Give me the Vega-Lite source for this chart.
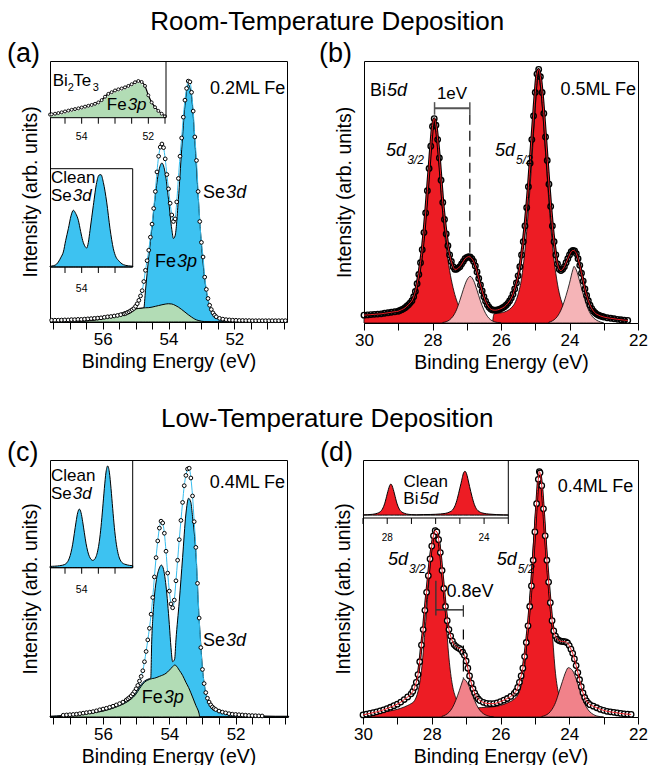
{
"$schema": "https://vega.github.io/schema/vega-lite/v6.json",
"background": "white",
"padding": {"left": 6, "top": 8, "right": 2, "bottom": 2},
"config": {
  "font": "Liberation Sans",
  "view": {"stroke": "black", "strokeWidth": 1},
  "axis": {"grid": false, "labelColor": "black", "titleColor": "black", "tickColor": "black", "domainColor": "black", "titleFontWeight": "normal", "labelFontWeight": "normal"},
  "title": {"fontWeight": "normal", "color": "black"},
  "text": {"color": "black"},
  "point": {"opacity": 1},
  "area": {"opacity": 1}
},
"datasets": {
  "a_pts": [{"e":57.55,"d":0.7},{"e":57.45,"d":0.7},{"e":57.35,"d":0.7},{"e":57.25,"d":0.75},{"e":57.15,"d":0.8},{"e":57.05,"d":0.8},{"e":56.95,"d":0.9},{"e":56.85,"d":0.9},{"e":56.75,"d":1.0},{"e":56.65,"d":1.0},{"e":56.55,"d":1.1},{"e":56.45,"d":1.2},{"e":56.35,"d":1.3},{"e":56.25,"d":1.4},{"e":56.15,"d":1.5},{"e":56.05,"d":1.6},{"e":55.95,"d":1.8},{"e":55.85,"d":2.0},{"e":55.75,"d":2.1},{"e":55.65,"d":2.3},{"e":55.55,"d":2.5},{"e":55.45,"d":2.8},{"e":55.35,"d":3.1},{"e":55.3,"d":3.3},{"e":55.25,"d":3.6},{"e":55.2,"d":3.9},{"e":55.15,"d":4.3},{"e":55.1,"d":4.7},{"e":55.05,"d":5.2},{"e":55.0,"d":6.0},{"e":54.95,"d":7.0},{"e":54.9,"d":8.3},{"e":54.85,"d":10.0},{"e":54.8,"d":12.0},{"e":54.75,"d":15.5},{"e":54.7,"d":19.8},{"e":54.65,"d":23.5},{"e":54.6,"d":27.5},{"e":54.55,"d":32.5},{"e":54.5,"d":37.5},{"e":54.45,"d":43.5},{"e":54.4,"d":50.0},{"e":54.35,"d":57.5},{"e":54.3,"d":63.5},{"e":54.25,"d":67.0},{"e":54.2,"d":68.2},{"e":54.15,"d":66.8},{"e":54.1,"d":62.5},{"e":54.05,"d":56.5},{"e":54.0,"d":51.0},{"e":53.95,"d":45.5},{"e":53.9,"d":41.0},{"e":53.85,"d":38.5},{"e":53.8,"d":39.5},{"e":53.75,"d":46.0},{"e":53.7,"d":55.0},{"e":53.65,"d":63.5},{"e":53.6,"d":70.5},{"e":53.55,"d":78.5},{"e":53.5,"d":85.0},{"e":53.45,"d":89.5},{"e":53.4,"d":92.3},{"e":53.35,"d":92.0},{"e":53.3,"d":88.0},{"e":53.25,"d":80.8},{"e":53.2,"d":70.9},{"e":53.15,"d":61.9},{"e":53.1,"d":50.0},{"e":53.05,"d":38.5},{"e":53.0,"d":30.5},{"e":52.95,"d":24.9},{"e":52.9,"d":17.2},{"e":52.85,"d":12.5},{"e":52.8,"d":9.0},{"e":52.75,"d":6.4},{"e":52.7,"d":4.8},{"e":52.65,"d":3.5},{"e":52.6,"d":2.6},{"e":52.55,"d":2.0},{"e":52.45,"d":1.4},{"e":52.35,"d":1.1},{"e":52.25,"d":0.9},{"e":52.15,"d":0.8},{"e":52.05,"d":0.7},{"e":51.95,"d":0.65},{"e":51.85,"d":0.6},{"e":51.75,"d":0.6},{"e":51.65,"d":0.55},{"e":51.55,"d":0.55},{"e":51.45,"d":0.5},{"e":51.35,"d":0.5},{"e":51.25,"d":0.5},{"e":51.15,"d":0.5},{"e":51.05,"d":0.5},{"e":50.95,"d":0.5},{"e":50.85,"d":0.5},{"e":50.75,"d":0.5},{"e":50.65,"d":0.5},{"e":50.55,"d":0.5},{"e":50.45,"d":0.5}],
  "a_comp": [{"e":57.6,"s":0.1,"fe":0},{"e":57.4,"s":0.1,"fe":0.05},{"e":57.2,"s":0.15,"fe":0.1},{"e":57.0,"s":0.2,"fe":0.15},{"e":56.8,"s":0.25,"fe":0.2},{"e":56.6,"s":0.35,"fe":0.3},{"e":56.4,"s":0.5,"fe":0.5},{"e":56.2,"s":0.8,"fe":0.8},{"e":56.0,"s":1.2,"fe":1.2},{"e":55.8,"s":1.8,"fe":1.8},{"e":55.6,"s":2.6,"fe":2.6},{"e":55.4,"s":3.5,"fe":3.5},{"e":55.2,"s":4.4,"fe":4.4},{"e":55.0,"s":5.0,"fe":5.0},{"e":54.9,"s":5.2,"fe":5.2},{"e":54.8,"s":5.3,"fe":5.3},{"e":54.75,"s":5.4,"fe":5.4},{"e":54.7,"s":12.0,"fe":5.45},{"e":54.6,"s":25.0,"fe":5.5},{"e":54.5,"s":36.5,"fe":5.7},{"e":54.4,"s":48.5,"fe":6.0},{"e":54.3,"s":57.5,"fe":6.3},{"e":54.2,"s":60.9,"fe":6.6},{"e":54.1,"s":57.0,"fe":6.85},{"e":54.0,"s":47.0,"fe":7.0},{"e":53.9,"s":35.5,"fe":6.9},{"e":53.85,"s":32.0,"fe":6.7},{"e":53.8,"s":33.0,"fe":6.4},{"e":53.7,"s":47.0,"fe":5.7},{"e":53.6,"s":66.0,"fe":4.8},{"e":53.5,"s":83.0,"fe":3.8},{"e":53.4,"s":91.0,"fe":2.8},{"e":53.3,"s":86.5,"fe":1.9},{"e":53.2,"s":69.5,"fe":1.1},{"e":53.1,"s":48.5,"fe":0.6},{"e":53.0,"s":30.0,"fe":0.3},{"e":52.9,"s":16.5,"fe":0.15},{"e":52.8,"s":8.5,"fe":0.1},{"e":52.7,"s":4.3,"fe":0.05},{"e":52.6,"s":2.2,"fe":0},{"e":52.5,"s":1.2,"fe":0},{"e":52.4,"s":0.7,"fe":0},{"e":52.2,"s":0.3,"fe":0},{"e":52.0,"s":0.15,"fe":0},{"e":51.5,"s":0.05,"fe":0},{"e":50.4,"s":0,"fe":0}],
  "a_in1": [{"e":54.95,"d":5.5,"g":2.4},{"e":54.9,"d":6.0,"g":2.8},{"e":54.8,"d":7.0,"g":3.8},{"e":54.7,"d":8.2,"g":5.0},{"e":54.6,"d":9.5,"g":6.3},{"e":54.5,"d":11.0,"g":7.8},{"e":54.4,"d":12.5,"g":9.3},{"e":54.3,"d":14.0,"g":10.8},{"e":54.2,"d":15.2,"g":12.0},{"e":54.1,"d":16.5,"g":13.3},{"e":54.0,"d":18.0,"g":14.8},{"e":53.9,"d":19.5,"g":16.3},{"e":53.8,"d":21.0,"g":17.8},{"e":53.7,"d":22.5,"g":19.3},{"e":53.6,"d":24.5,"g":21.3},{"e":53.5,"d":27.0,"g":23.8},{"e":53.4,"d":31.0,"g":27.5},{"e":53.3,"d":37.0,"g":33.5},{"e":53.2,"d":42.0,"g":38.5},{"e":53.1,"d":45.0,"g":41.5},{"e":53.0,"d":48.0,"g":44.5},{"e":52.9,"d":50.0,"g":46.5},{"e":52.8,"d":51.5,"g":48.0},{"e":52.7,"d":53.5,"g":50.0},{"e":52.6,"d":56.0,"g":52.5},{"e":52.5,"d":59.0,"g":55.5},{"e":52.4,"d":62.5,"g":59.0},{"e":52.3,"d":64.7,"g":61.0},{"e":52.2,"d":63.0,"g":59.0},{"e":52.1,"d":56.0,"g":52.0},{"e":52.0,"d":39.5,"g":36.0},{"e":51.9,"d":27.0,"g":23.5},{"e":51.8,"d":18.5,"g":15.0},{"e":51.7,"d":12.0,"g":8.5},{"e":51.6,"d":7.0,"g":3.5},{"e":51.5,"d":2.5,"g":0.5}],
  "a_in2": [{"e":54.95,"v":0.8},{"e":54.85,"v":1.3},{"e":54.75,"v":3.0},{"e":54.7,"v":5.1},{"e":54.62,"v":10},{"e":54.55,"v":15.3},{"e":54.48,"v":27},{"e":54.4,"v":39},{"e":54.32,"v":52},{"e":54.25,"v":57.7},{"e":54.18,"v":54.5},{"e":54.1,"v":47.5},{"e":54.03,"v":36},{"e":53.97,"v":27},{"e":53.9,"v":21},{"e":53.85,"v":19.3},{"e":53.8,"v":25},{"e":53.75,"v":37.3},{"e":53.65,"v":62.7},{"e":53.55,"v":86},{"e":53.48,"v":93.5},{"e":53.42,"v":93.9},{"e":53.35,"v":86},{"e":53.25,"v":66},{"e":53.15,"v":39},{"e":53.05,"v":18.6},{"e":52.97,"v":10},{"e":52.9,"v":6.8},{"e":52.75,"v":2.4},{"e":52.6,"v":1.2},{"e":52.47,"v":0.8}],
  "b_pts": [{"e":30.0,"d":3.0},{"e":29.9,"d":3.1},{"e":29.8,"d":3.2},{"e":29.7,"d":3.3},{"e":29.6,"d":3.4},{"e":29.5,"d":3.5},{"e":29.4,"d":3.7},{"e":29.3,"d":3.9},{"e":29.2,"d":4.1},{"e":29.1,"d":4.3},{"e":29.0,"d":4.5},{"e":28.95,"d":4.8},{"e":28.9,"d":5.1},{"e":28.85,"d":5.4},{"e":28.8,"d":5.8},{"e":28.75,"d":6.4},{"e":28.7,"d":7.0},{"e":28.65,"d":7.7},{"e":28.6,"d":8.5},{"e":28.55,"d":10.0},{"e":28.5,"d":12.0},{"e":28.45,"d":15.0},{"e":28.4,"d":18.5},{"e":28.35,"d":23.0},{"e":28.3,"d":28.0},{"e":28.25,"d":34.5},{"e":28.2,"d":42.0},{"e":28.15,"d":50.5},{"e":28.1,"d":59.0},{"e":28.05,"d":67.5},{"e":28.0,"d":75.0},{"e":27.95,"d":78.0},{"e":27.9,"d":75.5},{"e":27.85,"d":70.0},{"e":27.8,"d":63.0},{"e":27.75,"d":54.5},{"e":27.7,"d":46.0},{"e":27.65,"d":39.5},{"e":27.6,"d":34.0},{"e":27.55,"d":29.5},{"e":27.5,"d":26.0},{"e":27.45,"d":23.5},{"e":27.4,"d":21.5},{"e":27.35,"d":20.5},{"e":27.3,"d":20.5},{"e":27.25,"d":21.0},{"e":27.2,"d":21.5},{"e":27.15,"d":22.5},{"e":27.1,"d":23.5},{"e":27.05,"d":24.5},{"e":27.0,"d":25.0},{"e":26.95,"d":25.3},{"e":26.9,"d":25.2},{"e":26.85,"d":24.5},{"e":26.8,"d":23.5},{"e":26.75,"d":21.8},{"e":26.7,"d":19.5},{"e":26.65,"d":17.0},{"e":26.6,"d":14.5},{"e":26.55,"d":12.2},{"e":26.5,"d":10.0},{"e":26.45,"d":8.3},{"e":26.4,"d":7.0},{"e":26.35,"d":6.0},{"e":26.3,"d":5.3},{"e":26.25,"d":5.0},{"e":26.2,"d":4.9},{"e":26.15,"d":4.9},{"e":26.1,"d":5.0},{"e":26.05,"d":5.2},{"e":26.0,"d":5.5},{"e":25.95,"d":5.8},{"e":25.9,"d":6.2},{"e":25.85,"d":6.8},{"e":25.8,"d":7.5},{"e":25.75,"d":8.4},{"e":25.7,"d":9.5},{"e":25.65,"d":11.0},{"e":25.6,"d":13.0},{"e":25.55,"d":15.3},{"e":25.5,"d":18.0},{"e":25.45,"d":21.5},{"e":25.4,"d":26.0},{"e":25.35,"d":31.0},{"e":25.3,"d":37.0},{"e":25.25,"d":44.0},{"e":25.2,"d":52.0},{"e":25.15,"d":61.0},{"e":25.1,"d":70.0},{"e":25.05,"d":79.0},{"e":25.0,"d":88.0},{"e":24.95,"d":95.0},{"e":24.9,"d":96.8},{"e":24.85,"d":94.0},{"e":24.8,"d":88.0},{"e":24.75,"d":80.0},{"e":24.7,"d":71.0},{"e":24.65,"d":62.0},{"e":24.6,"d":53.0},{"e":24.55,"d":44.5},{"e":24.5,"d":37.0},{"e":24.45,"d":31.0},{"e":24.4,"d":26.0},{"e":24.35,"d":22.5},{"e":24.3,"d":20.5},{"e":24.25,"d":20.0},{"e":24.2,"d":20.5},{"e":24.15,"d":21.5},{"e":24.1,"d":23.0},{"e":24.05,"d":24.5},{"e":24.0,"d":26.0},{"e":23.95,"d":27.2},{"e":23.9,"d":27.7},{"e":23.85,"d":27.5},{"e":23.8,"d":26.5},{"e":23.75,"d":24.5},{"e":23.7,"d":22.0},{"e":23.65,"d":19.0},{"e":23.6,"d":16.0},{"e":23.55,"d":13.0},{"e":23.5,"d":10.5},{"e":23.45,"d":8.5},{"e":23.4,"d":6.8},{"e":23.35,"d":5.5},{"e":23.3,"d":4.5},{"e":23.25,"d":3.8},{"e":23.2,"d":3.3},{"e":23.15,"d":3.0},{"e":23.1,"d":2.7},{"e":23.05,"d":2.5},{"e":23.0,"d":2.3},{"e":22.9,"d":2.0},{"e":22.8,"d":1.8},{"e":22.7,"d":1.6},{"e":22.6,"d":1.4},{"e":22.5,"d":1.25},{"e":22.4,"d":1.1},{"e":22.3,"d":1.0}],
  "b_comp": [
    {"c":"R1","e":30.0,"v":2.2},{"c":"R1","e":29.6,"v":2.6},{"c":"R1","e":29.2,"v":3.2},{"c":"R1","e":29.0,"v":3.7},{"c":"R1","e":28.8,"v":4.8},{"c":"R1","e":28.7,"v":6.0},{"c":"R1","e":28.6,"v":7.8},{"c":"R1","e":28.5,"v":11},{"c":"R1","e":28.4,"v":17},{"c":"R1","e":28.3,"v":26},{"c":"R1","e":28.2,"v":40},{"c":"R1","e":28.1,"v":57},{"c":"R1","e":28.0,"v":74},{"c":"R1","e":27.96,"v":78},{"c":"R1","e":27.9,"v":74},{"c":"R1","e":27.8,"v":60},{"c":"R1","e":27.7,"v":42},{"c":"R1","e":27.6,"v":29},{"c":"R1","e":27.5,"v":20},{"c":"R1","e":27.4,"v":13.5},{"c":"R1","e":27.3,"v":8.8},{"c":"R1","e":27.2,"v":5.5},{"c":"R1","e":27.1,"v":3.3},{"c":"R1","e":27.0,"v":1.8},{"c":"R1","e":26.9,"v":0.9},{"c":"R1","e":26.8,"v":0.4},{"c":"R1","e":26.6,"v":0.1},{"c":"R1","e":26.4,"v":0},
    {"c":"P1","e":27.7,"v":0.2},{"c":"P1","e":27.6,"v":0.5},{"c":"P1","e":27.5,"v":1.2},{"c":"P1","e":27.4,"v":2.6},{"c":"P1","e":27.3,"v":5},{"c":"P1","e":27.2,"v":8.7},{"c":"P1","e":27.1,"v":12.8},{"c":"P1","e":27.0,"v":16.3},{"c":"P1","e":26.9,"v":17.8},{"c":"P1","e":26.8,"v":16.2},{"c":"P1","e":26.7,"v":12.5},{"c":"P1","e":26.6,"v":8.4},{"c":"P1","e":26.5,"v":5},{"c":"P1","e":26.4,"v":2.6},{"c":"P1","e":26.3,"v":1.2},{"c":"P1","e":26.2,"v":0.5},{"c":"P1","e":26.1,"v":0.2},{"c":"P1","e":26.0,"v":0},
    {"c":"R2","e":26.25,"v":0},{"c":"R2","e":26.2,"v":3.5},{"c":"R2","e":26.0,"v":3.9},{"c":"R2","e":25.8,"v":4.8},{"c":"R2","e":25.7,"v":5.8},{"c":"R2","e":25.6,"v":7.5},{"c":"R2","e":25.5,"v":11},{"c":"R2","e":25.4,"v":17},{"c":"R2","e":25.3,"v":28},{"c":"R2","e":25.2,"v":43},{"c":"R2","e":25.1,"v":62},{"c":"R2","e":25.0,"v":82},{"c":"R2","e":24.92,"v":94.2},{"c":"R2","e":24.9,"v":93.8},{"c":"R2","e":24.8,"v":84},{"c":"R2","e":24.7,"v":65},{"c":"R2","e":24.6,"v":46},{"c":"R2","e":24.5,"v":30},{"c":"R2","e":24.4,"v":19},{"c":"R2","e":24.3,"v":11.5},{"c":"R2","e":24.2,"v":7},{"c":"R2","e":24.1,"v":4.2},{"c":"R2","e":24.0,"v":2.6},{"c":"R2","e":23.9,"v":1.6},{"c":"R2","e":23.8,"v":1.0},{"c":"R2","e":23.6,"v":0.4},{"c":"R2","e":23.4,"v":0.1},{"c":"R2","e":23.2,"v":0},
    {"c":"P2","e":24.6,"v":0.3},{"c":"P2","e":24.5,"v":0.8},{"c":"P2","e":24.4,"v":1.8},{"c":"P2","e":24.3,"v":3.6},{"c":"P2","e":24.2,"v":6.5},{"c":"P2","e":24.1,"v":10.5},{"c":"P2","e":24.0,"v":15.2},{"c":"P2","e":23.9,"v":20.5},{"c":"P2","e":23.87,"v":21.6},{"c":"P2","e":23.8,"v":20.2},{"c":"P2","e":23.7,"v":15.8},{"c":"P2","e":23.6,"v":11},{"c":"P2","e":23.5,"v":6.8},{"c":"P2","e":23.4,"v":3.8},{"c":"P2","e":23.3,"v":2},{"c":"P2","e":23.2,"v":1},{"c":"P2","e":23.1,"v":0.4},{"c":"P2","e":23.0,"v":0}],
  "c_pts": [{"e":57.2,"d":0.7},{"e":57.1,"d":0.8},{"e":57.0,"d":0.9},{"e":56.9,"d":1.0},{"e":56.8,"d":1.1},{"e":56.7,"d":1.3},{"e":56.6,"d":1.5},{"e":56.5,"d":1.7},{"e":56.4,"d":1.9},{"e":56.3,"d":2.1},{"e":56.2,"d":2.4},{"e":56.1,"d":2.8},{"e":56.0,"d":3.1},{"e":55.9,"d":3.4},{"e":55.8,"d":3.8},{"e":55.7,"d":4.2},{"e":55.6,"d":4.7},{"e":55.5,"d":5.2},{"e":55.4,"d":5.8},{"e":55.3,"d":6.6},{"e":55.25,"d":7.1},{"e":55.2,"d":7.6},{"e":55.15,"d":8.2},{"e":55.1,"d":9.0},{"e":55.05,"d":9.9},{"e":55.0,"d":11.0},{"e":54.95,"d":12.3},{"e":54.9,"d":14.0},{"e":54.85,"d":15.8},{"e":54.8,"d":18.0},{"e":54.75,"d":21.5},{"e":54.7,"d":25.5},{"e":54.65,"d":30.0},{"e":54.6,"d":34.5},{"e":54.55,"d":40.0},{"e":54.5,"d":46.5},{"e":54.45,"d":54.5},{"e":54.4,"d":62.0},{"e":54.35,"d":68.5},{"e":54.3,"d":73.5},{"e":54.25,"d":76.2},{"e":54.2,"d":75.5},{"e":54.15,"d":71.5},{"e":54.1,"d":64.5},{"e":54.05,"d":56.0},{"e":54.0,"d":49.0},{"e":53.95,"d":44.0},{"e":53.9,"d":42.5},{"e":53.85,"d":45.5},{"e":53.8,"d":53.0},{"e":53.75,"d":61.0},{"e":53.7,"d":69.0},{"e":53.65,"d":76.5},{"e":53.6,"d":83.5},{"e":53.55,"d":90.0},{"e":53.5,"d":94.0},{"e":53.45,"d":96.5},{"e":53.4,"d":96.8},{"e":53.35,"d":93.0},{"e":53.3,"d":86.0},{"e":53.25,"d":76.0},{"e":53.2,"d":66.0},{"e":53.15,"d":52.0},{"e":53.1,"d":38.5},{"e":53.05,"d":27.0},{"e":53.0,"d":18.5},{"e":52.95,"d":13.0},{"e":52.9,"d":9.5},{"e":52.85,"d":7.3},{"e":52.8,"d":5.8},{"e":52.75,"d":4.7},{"e":52.7,"d":3.9},{"e":52.65,"d":3.3},{"e":52.6,"d":2.9},{"e":52.5,"d":2.3},{"e":52.4,"d":1.9},{"e":52.3,"d":1.6},{"e":52.2,"d":1.3},{"e":52.1,"d":1.1},{"e":52.0,"d":1.0},{"e":51.9,"d":0.9},{"e":51.8,"d":0.8},{"e":51.7,"d":0.7},{"e":51.6,"d":0.6},{"e":51.5,"d":0.55},{"e":51.4,"d":0.5},{"e":51.3,"d":0.45},{"e":51.2,"d":0.4}],
  "c_comp": [{"e":57.6,"s":0.3,"fe":0},{"e":57.4,"s":0.45,"fe":0.1},{"e":57.2,"s":0.6,"fe":0.25},{"e":57.0,"s":0.8,"fe":0.4},{"e":56.8,"s":1.1,"fe":0.7},{"e":56.6,"s":1.4,"fe":1.0},{"e":56.4,"s":1.8,"fe":1.4},{"e":56.2,"s":2.3,"fe":1.8},{"e":56.0,"s":2.9,"fe":2.3},{"e":55.8,"s":3.7,"fe":3.0},{"e":55.6,"s":4.6,"fe":3.9},{"e":55.4,"s":5.8,"fe":5.0},{"e":55.2,"s":7.4,"fe":6.5},{"e":55.0,"s":9.9,"fe":9.0},{"e":54.9,"s":11.8,"fe":11.0},{"e":54.8,"s":13.4,"fe":12.8},{"e":54.7,"s":14.4,"fe":14.0},{"e":54.6,"s":14.9,"fe":14.6},{"e":54.56,"s":15.1,"fe":14.8},{"e":54.53,"s":30,"fe":14.9},{"e":54.5,"s":38,"fe":15.0},{"e":54.45,"s":47,"fe":15.1},{"e":54.4,"s":52.5,"fe":15.3},{"e":54.3,"s":58,"fe":15.8},{"e":54.24,"s":59.1,"fe":16.1},{"e":54.2,"s":58.5,"fe":16.3},{"e":54.1,"s":51,"fe":17.0},{"e":54.0,"s":36,"fe":18.2},{"e":53.95,"s":27,"fe":18.9},{"e":53.9,"s":21.5,"fe":19.6},{"e":53.84,"s":22.5,"fe":20.2},{"e":53.8,"s":30,"fe":20.0},{"e":53.7,"s":45,"fe":18.2},{"e":53.6,"s":62,"fe":16.2},{"e":53.5,"s":79,"fe":13.5},{"e":53.42,"s":85.1,"fe":11.5},{"e":53.35,"s":83.5,"fe":9.4},{"e":53.3,"s":78,"fe":7.8},{"e":53.2,"s":64,"fe":4.5},{"e":53.1,"s":38,"fe":1.2},{"e":53.08,"s":34,"fe":0},{"e":53.0,"s":19,"fe":0},{"e":52.9,"s":9.3,"fe":0},{"e":52.8,"s":5.6,"fe":0},{"e":52.7,"s":3.9,"fe":0},{"e":52.6,"s":2.9,"fe":0},{"e":52.5,"s":2.3,"fe":0},{"e":52.4,"s":1.9,"fe":0},{"e":52.3,"s":1.6,"fe":0},{"e":52.2,"s":1.3,"fe":0},{"e":52.0,"s":1.0,"fe":0},{"e":51.8,"s":0.8,"fe":0},{"e":51.5,"s":0.55,"fe":0},{"e":51.2,"s":0.4,"fe":0},{"e":50.8,"s":0.3,"fe":0},{"e":50.4,"s":0.3,"fe":0}],
  "c_in": [{"e":54.95,"v":1.2},{"e":54.92,"v":1.24},{"e":54.87,"v":1.32},{"e":54.82,"v":1.4},{"e":54.77,"v":1.5},{"e":54.72,"v":1.65},{"e":54.67,"v":1.8},{"e":54.62,"v":2.07},{"e":54.57,"v":2.35},{"e":54.52,"v":2.86},{"e":54.47,"v":3.8},{"e":54.42,"v":5.6},{"e":54.37,"v":8.9},{"e":54.32,"v":14.2},{"e":54.27,"v":21.8},{"e":54.22,"v":31.9},{"e":54.17,"v":42.3},{"e":54.12,"v":51},{"e":54.07,"v":54.4},{"e":54.02,"v":51.2},{"e":53.97,"v":42.7},{"e":53.92,"v":32.5},{"e":53.87,"v":22.7},{"e":53.82,"v":15.3},{"e":53.77,"v":10.5},{"e":53.72,"v":7.8},{"e":53.67,"v":6.8},{"e":53.62,"v":7.5},{"e":53.57,"v":10.2},{"e":53.52,"v":15.6},{"e":53.47,"v":24.6},{"e":53.42,"v":38},{"e":53.37,"v":55.3},{"e":53.32,"v":73.6},{"e":53.27,"v":88.8},{"e":53.22,"v":94.5},{"e":53.17,"v":88.7},{"e":53.12,"v":73.5},{"e":53.07,"v":55},{"e":53.02,"v":37.5},{"e":52.97,"v":24},{"e":52.92,"v":14.8},{"e":52.87,"v":9.0},{"e":52.82,"v":5.9},{"e":52.77,"v":4.2},{"e":52.72,"v":3.4},{"e":52.67,"v":2.9},{"e":52.62,"v":2.5},{"e":52.57,"v":2.2},{"e":52.52,"v":2.0},{"e":52.47,"v":1.8}],
  "d_pts": [{"e":30.0,"d":0.8},{"e":29.9,"d":1.1},{"e":29.8,"d":1.4},{"e":29.7,"d":1.7},{"e":29.6,"d":2.0},{"e":29.5,"d":2.4},{"e":29.4,"d":2.8},{"e":29.3,"d":3.3},{"e":29.2,"d":3.8},{"e":29.1,"d":4.4},{"e":29.0,"d":5.0},{"e":28.9,"d":5.8},{"e":28.8,"d":6.8},{"e":28.7,"d":7.8},{"e":28.6,"d":9.0},{"e":28.55,"d":10.0},{"e":28.5,"d":11.5},{"e":28.45,"d":13.5},{"e":28.4,"d":16.5},{"e":28.35,"d":21.5},{"e":28.3,"d":28.0},{"e":28.25,"d":34.0},{"e":28.2,"d":41.5},{"e":28.15,"d":48.5},{"e":28.1,"d":55.0},{"e":28.05,"d":61.5},{"e":28.0,"d":66.5},{"e":27.95,"d":70.5},{"e":27.9,"d":72.5},{"e":27.85,"d":72.0},{"e":27.8,"d":69.0},{"e":27.75,"d":64.0},{"e":27.7,"d":57.0},{"e":27.65,"d":50.0},{"e":27.6,"d":43.0},{"e":27.55,"d":37.5},{"e":27.5,"d":34.0},{"e":27.45,"d":31.5},{"e":27.4,"d":29.5},{"e":27.35,"d":28.2},{"e":27.3,"d":27.5},{"e":27.25,"d":27.0},{"e":27.2,"d":26.7},{"e":27.15,"d":26.2},{"e":27.1,"d":25.2},{"e":27.05,"d":24.0},{"e":27.0,"d":21.8},{"e":26.95,"d":19.0},{"e":26.9,"d":16.0},{"e":26.85,"d":13.2},{"e":26.8,"d":11.0},{"e":26.75,"d":9.3},{"e":26.7,"d":8.0},{"e":26.65,"d":7.0},{"e":26.6,"d":6.4},{"e":26.5,"d":5.7},{"e":26.4,"d":5.3},{"e":26.3,"d":5.2},{"e":26.2,"d":5.2},{"e":26.1,"d":5.5},{"e":26.0,"d":6.0},{"e":25.9,"d":6.6},{"e":25.8,"d":7.2},{"e":25.7,"d":8.0},{"e":25.6,"d":9.2},{"e":25.55,"d":10.0},{"e":25.5,"d":11.5},{"e":25.45,"d":13.5},{"e":25.4,"d":16.0},{"e":25.35,"d":19.0},{"e":25.3,"d":23.5},{"e":25.25,"d":29.0},{"e":25.2,"d":35.5},{"e":25.15,"d":43.0},{"e":25.1,"d":51.0},{"e":25.05,"d":61.0},{"e":25.0,"d":72.0},{"e":24.95,"d":83.0},{"e":24.9,"d":92.5},{"e":24.87,"d":95.5},{"e":24.85,"d":95.0},{"e":24.8,"d":90.0},{"e":24.75,"d":81.0},{"e":24.7,"d":70.5},{"e":24.65,"d":61.0},{"e":24.6,"d":52.5},{"e":24.55,"d":44.5},{"e":24.5,"d":37.5},{"e":24.45,"d":33.5},{"e":24.4,"d":31.5},{"e":24.35,"d":30.3},{"e":24.3,"d":29.8},{"e":24.25,"d":29.5},{"e":24.2,"d":29.4},{"e":24.15,"d":29.3},{"e":24.1,"d":29.2},{"e":24.05,"d":28.8},{"e":24.0,"d":27.8},{"e":23.95,"d":26.4},{"e":23.9,"d":24.8},{"e":23.85,"d":22.6},{"e":23.8,"d":20.0},{"e":23.75,"d":17.3},{"e":23.7,"d":14.5},{"e":23.65,"d":11.8},{"e":23.6,"d":9.4},{"e":23.55,"d":7.6},{"e":23.5,"d":6.3},{"e":23.45,"d":5.4},{"e":23.4,"d":4.8},{"e":23.3,"d":4.2},{"e":23.2,"d":3.6},{"e":23.1,"d":3.0},{"e":23.0,"d":2.6},{"e":22.9,"d":2.2},{"e":22.8,"d":2.0},{"e":22.7,"d":1.8},{"e":22.6,"d":1.6},{"e":22.5,"d":1.4},{"e":22.4,"d":1.2},{"e":22.3,"d":1.1},{"e":22.2,"d":1.0}],
  "d_comp": [
    {"c":"R1","e":30.0,"v":1.2},{"c":"R1","e":29.8,"v":1.4},{"c":"R1","e":29.6,"v":1.7},{"c":"R1","e":29.4,"v":2.0},{"c":"R1","e":29.2,"v":2.4},{"c":"R1","e":29.0,"v":3.0},{"c":"R1","e":28.9,"v":3.4},{"c":"R1","e":28.8,"v":3.9},{"c":"R1","e":28.7,"v":4.5},{"c":"R1","e":28.6,"v":5.2},{"c":"R1","e":28.5,"v":6.4},{"c":"R1","e":28.4,"v":10},{"c":"R1","e":28.3,"v":18},{"c":"R1","e":28.2,"v":33},{"c":"R1","e":28.1,"v":50},{"c":"R1","e":28.0,"v":66},{"c":"R1","e":27.9,"v":73.4},{"c":"R1","e":27.88,"v":73.6},{"c":"R1","e":27.8,"v":71},{"c":"R1","e":27.7,"v":56},{"c":"R1","e":27.6,"v":40.5},{"c":"R1","e":27.5,"v":23},{"c":"R1","e":27.4,"v":12.5},{"c":"R1","e":27.3,"v":7.5},{"c":"R1","e":27.2,"v":5.2},{"c":"R1","e":27.1,"v":4.0},{"c":"R1","e":27.0,"v":3.2},{"c":"R1","e":26.9,"v":2.5},{"c":"R1","e":26.8,"v":1.8},{"c":"R1","e":26.6,"v":0.9},{"c":"R1","e":26.4,"v":0.4},{"c":"R1","e":26.2,"v":0.1},{"c":"R1","e":26.0,"v":0},
    {"c":"P1","e":27.7,"v":0.3},{"c":"P1","e":27.6,"v":0.8},{"c":"P1","e":27.5,"v":1.8},{"c":"P1","e":27.4,"v":3.6},{"c":"P1","e":27.3,"v":6.5},{"c":"P1","e":27.2,"v":10.2},{"c":"P1","e":27.1,"v":14.2},{"c":"P1","e":27.08,"v":14.9},{"c":"P1","e":27.0,"v":14.0},{"c":"P1","e":26.9,"v":11.5},{"c":"P1","e":26.8,"v":8},{"c":"P1","e":26.7,"v":4.8},{"c":"P1","e":26.6,"v":2.6},{"c":"P1","e":26.5,"v":1.3},{"c":"P1","e":26.4,"v":0.6},{"c":"P1","e":26.3,"v":0.2},{"c":"P1","e":26.2,"v":0},
    {"c":"R2","e":26.75,"v":0},{"c":"R2","e":26.7,"v":3.5},{"c":"R2","e":26.4,"v":3.8},{"c":"R2","e":26.2,"v":4.0},{"c":"R2","e":26.0,"v":4.5},{"c":"R2","e":25.8,"v":5.5},{"c":"R2","e":25.6,"v":7.0},{"c":"R2","e":25.5,"v":8.5},{"c":"R2","e":25.4,"v":12},{"c":"R2","e":25.3,"v":19},{"c":"R2","e":25.2,"v":35},{"c":"R2","e":25.1,"v":56},{"c":"R2","e":25.0,"v":76},{"c":"R2","e":24.95,"v":85},{"c":"R2","e":24.87,"v":92.2},{"c":"R2","e":24.8,"v":88},{"c":"R2","e":24.7,"v":73},{"c":"R2","e":24.6,"v":52},{"c":"R2","e":24.5,"v":34},{"c":"R2","e":24.4,"v":17},{"c":"R2","e":24.3,"v":8.5},{"c":"R2","e":24.2,"v":4.5},{"c":"R2","e":24.1,"v":2.5},{"c":"R2","e":24.0,"v":1.5},{"c":"R2","e":23.8,"v":0.6},{"c":"R2","e":23.6,"v":0.2},{"c":"R2","e":23.4,"v":0},
    {"c":"P2","e":24.8,"v":0.2},{"c":"P2","e":24.7,"v":0.6},{"c":"P2","e":24.6,"v":1.4},{"c":"P2","e":24.5,"v":3},{"c":"P2","e":24.4,"v":5.6},{"c":"P2","e":24.3,"v":9.6},{"c":"P2","e":24.2,"v":13.8},{"c":"P2","e":24.1,"v":17.6},{"c":"P2","e":24.03,"v":19.2},{"c":"P2","e":23.9,"v":18},{"c":"P2","e":23.8,"v":14.8},{"c":"P2","e":23.7,"v":10.5},{"c":"P2","e":23.6,"v":6.6},{"c":"P2","e":23.5,"v":3.8},{"c":"P2","e":23.4,"v":2},{"c":"P2","e":23.3,"v":1},{"c":"P2","e":23.2,"v":0.4},{"c":"P2","e":23.0,"v":0}],
  "d_in": [{"e":29.0,"v":5.4},{"e":28.8,"v":5.7},{"e":28.6,"v":6.4},{"e":28.4,"v":8.3},{"e":28.3,"v":10.4},{"e":28.2,"v":15.3},{"e":28.1,"v":25.5},{"e":28.0,"v":41.5},{"e":27.95,"v":49.3},{"e":27.9,"v":55.8},{"e":27.85,"v":58.5},{"e":27.8,"v":55.8},{"e":27.75,"v":49.3},{"e":27.7,"v":41.5},{"e":27.6,"v":25.5},{"e":27.5,"v":15.3},{"e":27.4,"v":10.4},{"e":27.3,"v":8.3},{"e":27.2,"v":6.9},{"e":27.0,"v":5.9},{"e":26.8,"v":5.5},{"e":26.5,"v":5.9},{"e":26.2,"v":6.1},{"e":26.0,"v":6.4},{"e":25.8,"v":7.0},{"e":25.6,"v":8.0},{"e":25.4,"v":10.8},{"e":25.3,"v":14.0},{"e":25.2,"v":21.2},{"e":25.1,"v":34.1},{"e":25.0,"v":51.5},{"e":24.95,"v":60.0},{"e":24.9,"v":69.5},{"e":24.85,"v":77.5},{"e":24.79,"v":80.5},{"e":24.75,"v":79.0},{"e":24.7,"v":72.9},{"e":24.65,"v":63.8},{"e":24.6,"v":54.5},{"e":24.5,"v":37.2},{"e":24.4,"v":23.1},{"e":24.3,"v":14.8},{"e":24.2,"v":11.0},{"e":24.0,"v":8.0},{"e":23.8,"v":6.8},{"e":23.5,"v":5.9},{"e":23.2,"v":5.4},{"e":23.0,"v":5.2}]
},
"spacing": 33,
"vconcat": [
 {
  "title": {"text": "Room-Temperature Deposition", "fontSize": 26, "anchor": "middle", "offset": 4.5},
  "spacing": 28,
  "hconcat": [
   {
    "width": 237, "height": 261,
    "title": {"text": "(a)", "anchor": "start", "frame": "group", "dx": -43, "offset": -7, "fontSize": 27},
    "resolve": {"scale": {"x": "independent", "y": "independent"}},
    "layer": [
     {"layer": [
      {"data": {"name": "a_comp"}, "mark": {"type": "area", "interpolate": "monotone", "fill": "#3DC2F1", "stroke": "black", "strokeWidth": 1},
       "encoding": {
        "x": {"field": "e", "type": "quantitative", "scale": {"domain": [57.6, 50.4], "nice": false, "zero": false},
              "axis": {"values": [57.5,57,56.5,56,55.5,55,54.5,54,53.5,53,52.5,52,51.5,51,50.5], "tickCount": 50, "labelExpr": "datum.value % 2 === 0 ? format(datum.value, 'd') : ''", "title": "Binding Energy (eV)", "titleFontSize": 19.5, "labelFontSize": 17, "tickSize": 7, "domain": false, "labelPadding": 2, "titlePadding": 5, "labelFlush": false, "labelOverlap": false}},
        "y": {"field": "s", "type": "quantitative", "scale": {"domain": [0, 100], "nice": false, "zero": false},
              "axis": {"title": "Intensity (arb. units)", "titleFontSize": 19.5, "ticks": false, "labels": false, "domain": false, "titlePadding": 10}},
        "y2": {"datum": 0}}},
      {"data": {"name": "a_comp"}, "mark": {"type": "area", "interpolate": "monotone", "fill": "#B2DCB5", "stroke": "black", "strokeWidth": 1},
       "encoding": {"x": {"field": "e", "type": "quantitative"}, "y": {"field": "fe", "type": "quantitative"}, "y2": {"datum": 0}}},
      {"data": {"name": "a_pts"}, "mark": {"type": "line", "interpolate": "monotone", "color": "#35BDEE", "strokeWidth": 1},
       "encoding": {"x": {"field": "e", "type": "quantitative"}, "y": {"field": "d", "type": "quantitative"}}},
      {"data": {"name": "a_pts"}, "mark": {"type": "point", "shape": "circle", "size": 14, "filled": true, "fill": "white", "stroke": "black", "strokeWidth": 1, "opacity": 1},
       "encoding": {"x": {"field": "e", "type": "quantitative"}, "y": {"field": "d", "type": "quantitative"}}},
      {"data": {"values": [{}]}, "mark": {"type": "text", "text": "0.2ML Fe", "fontSize": 18, "align": "right", "baseline": "middle"},
       "encoding": {"x": {"datum": 50.45, "type": "quantitative"}, "y": {"datum": 89.3, "type": "quantitative"}}},
      {"data": {"values": [{}]}, "mark": {"type": "text", "text": "Se", "fontSize": 18, "align": "right", "baseline": "middle"},
       "encoding": {"x": {"datum": 52.28, "type": "quantitative"}, "y": {"datum": 49.4, "type": "quantitative"}}},
      {"data": {"values": [{}]}, "mark": {"type": "text", "text": "3d", "fontSize": 18, "fontStyle": "italic", "align": "left", "baseline": "middle", "dx": 1},
       "encoding": {"x": {"datum": 52.28, "type": "quantitative"}, "y": {"datum": 49.4, "type": "quantitative"}}},
      {"data": {"values": [{}]}, "mark": {"type": "text", "text": "Fe", "fontSize": 18, "align": "right", "baseline": "middle"},
       "encoding": {"x": {"datum": 53.77, "type": "quantitative"}, "y": {"datum": 23, "type": "quantitative"}}},
      {"data": {"values": [{}]}, "mark": {"type": "text", "text": "3p", "fontSize": 18, "fontStyle": "italic", "align": "left", "baseline": "middle", "dx": 1},
       "encoding": {"x": {"datum": 53.77, "type": "quantitative"}, "y": {"datum": 23, "type": "quantitative"}}}
     ]},
     {"layer": [
      {"data": {"name": "a_in1"}, "mark": {"type": "area", "interpolate": "monotone", "fill": "#B2DCB5"},
       "encoding": {
        "x": {"field": "e", "type": "quantitative", "scale": {"domain": [54.95, 51.47], "range": [0, 116], "nice": false, "zero": false}, "axis": null},
        "y": {"field": "g", "type": "quantitative", "scale": {"domain": [0, 100], "range": [56.7, 0], "nice": false, "zero": false}, "axis": null},
        "y2": {"datum": 0}}},
      {"data": {"name": "a_in1"}, "mark": {"type": "line", "interpolate": "monotone", "color": "black", "strokeWidth": 1.3},
       "encoding": {"x": {"field": "e", "type": "quantitative", "axis": null}, "y": {"field": "d", "type": "quantitative", "axis": null}}},
      {"data": {"name": "a_in1"}, "mark": {"type": "point", "shape": "circle", "size": 9, "filled": true, "fill": "white", "stroke": "black", "strokeWidth": 0.9, "opacity": 1},
       "encoding": {"x": {"field": "e", "type": "quantitative", "axis": null}, "y": {"field": "d", "type": "quantitative", "axis": null}}},
      {"data": {"values": [{}]}, "mark": {"type": "rule", "color": "black", "strokeWidth": 1},
       "encoding": {"x": {"datum": 51.47, "type": "quantitative", "axis": null}, "y": {"datum": 0, "type": "quantitative", "axis": null}, "y2": {"datum": 100}}},
      {"data": {"values": [{}]}, "mark": {"type": "rule", "color": "black", "strokeWidth": 1},
       "encoding": {"x": {"datum": 54.95, "type": "quantitative", "axis": null}, "x2": {"datum": 51.47}, "y": {"datum": 0, "type": "quantitative", "axis": null}}},
      {"data": {"values": [{"t": 54.5}, {"t": 54}, {"t": 53.5}, {"t": 53}, {"t": 52.5}, {"t": 52}, {"t": 51.5}]}, "mark": {"type": "rule", "color": "black", "strokeWidth": 1},
       "encoding": {"x": {"field": "t", "type": "quantitative", "axis": null}, "y": {"datum": 0, "type": "quantitative", "axis": null}, "y2": {"datum": -10.6}}},
      {"data": {"values": [{"t": 54}, {"t": 52}]}, "mark": {"type": "text", "fontSize": 10.5, "align": "center", "baseline": "middle"},
       "encoding": {"x": {"field": "t", "type": "quantitative", "axis": null}, "y": {"datum": -34, "type": "quantitative", "axis": null}, "text": {"field": "t", "type": "quantitative", "format": "d"}}},
      {"data": {"values": [{}]}, "mark": {"type": "text", "text": "Bi", "fontSize": 17, "align": "left", "baseline": "alphabetic"},
       "encoding": {"x": {"datum": 54.87, "type": "quantitative", "axis": null}, "y": {"datum": 55.9, "type": "quantitative", "axis": null}}},
      {"data": {"values": [{}]}, "mark": {"type": "text", "text": "2", "fontSize": 11, "align": "left", "baseline": "alphabetic"},
       "encoding": {"x": {"datum": 54.42, "type": "quantitative", "axis": null}, "y": {"datum": 47.1, "type": "quantitative", "axis": null}}},
      {"data": {"values": [{}]}, "mark": {"type": "text", "text": "Te", "fontSize": 17, "align": "left", "baseline": "alphabetic"},
       "encoding": {"x": {"datum": 54.25, "type": "quantitative", "axis": null}, "y": {"datum": 55.9, "type": "quantitative", "axis": null}}},
      {"data": {"values": [{}]}, "mark": {"type": "text", "text": "3", "fontSize": 11, "align": "left", "baseline": "alphabetic"},
       "encoding": {"x": {"datum": 53.67, "type": "quantitative", "axis": null}, "y": {"datum": 47.1, "type": "quantitative", "axis": null}}},
      {"data": {"values": [{}]}, "mark": {"type": "text", "text": "Fe", "fontSize": 17, "align": "right", "baseline": "middle"},
       "encoding": {"x": {"datum": 52.65, "type": "quantitative", "axis": null}, "y": {"datum": 22, "type": "quantitative", "axis": null}}},
      {"data": {"values": [{}]}, "mark": {"type": "text", "text": "3p", "fontSize": 17, "fontStyle": "italic", "align": "left", "baseline": "middle", "dx": 1},
       "encoding": {"x": {"datum": 52.65, "type": "quantitative", "axis": null}, "y": {"datum": 22, "type": "quantitative", "axis": null}}}
     ]},
     {"layer": [
      {"data": {"name": "a_in2"}, "mark": {"type": "area", "interpolate": "monotone", "fill": "#3DC2F1", "stroke": "black", "strokeWidth": 1},
       "encoding": {
        "x": {"field": "e", "type": "quantitative", "scale": {"domain": [54.95, 52.47], "range": [0, 82.7], "nice": false, "zero": false}, "axis": null},
        "y": {"field": "v", "type": "quantitative", "scale": {"domain": [0, 100], "range": [206, 107.7], "nice": false, "zero": false}, "axis": null},
        "y2": {"datum": 0}}},
      {"data": {"values": [{}]}, "mark": {"type": "rule", "color": "black", "strokeWidth": 1},
       "encoding": {"x": {"datum": 52.47, "type": "quantitative", "axis": null}, "y": {"datum": 0, "type": "quantitative", "axis": null}, "y2": {"datum": 100}}},
      {"data": {"values": [{}]}, "mark": {"type": "rule", "color": "black", "strokeWidth": 1},
       "encoding": {"x": {"datum": 54.95, "type": "quantitative", "axis": null}, "x2": {"datum": 52.47}, "y": {"datum": 100, "type": "quantitative", "axis": null}}},
      {"data": {"values": [{}]}, "mark": {"type": "rule", "color": "black", "strokeWidth": 1},
       "encoding": {"x": {"datum": 54.95, "type": "quantitative", "axis": null}, "x2": {"datum": 52.47}, "y": {"datum": 0, "type": "quantitative", "axis": null}}},
      {"data": {"values": [{"t": 54.5}, {"t": 54}, {"t": 53.5}, {"t": 53}]}, "mark": {"type": "rule", "color": "black", "strokeWidth": 1},
       "encoding": {"x": {"field": "t", "type": "quantitative", "axis": null}, "y": {"datum": 0, "type": "quantitative", "axis": null}, "y2": {"datum": -6.1}}},
      {"data": {"values": [{"t": 54}]}, "mark": {"type": "text", "fontSize": 10.5, "align": "center", "baseline": "middle"},
       "encoding": {"x": {"field": "t", "type": "quantitative", "axis": null}, "y": {"datum": -22.4, "type": "quantitative", "axis": null}, "text": {"field": "t", "type": "quantitative", "format": "d"}}},
      {"data": {"values": [{}]}, "mark": {"type": "text", "text": "Clean", "fontSize": 17, "align": "left", "baseline": "middle"},
       "encoding": {"x": {"datum": 54.92, "type": "quantitative", "axis": null}, "y": {"datum": 90.5, "type": "quantitative", "axis": null}}},
      {"data": {"values": [{}]}, "mark": {"type": "text", "text": "Se", "fontSize": 17, "align": "right", "baseline": "middle"},
       "encoding": {"x": {"datum": 54.3, "type": "quantitative", "axis": null}, "y": {"datum": 72.5, "type": "quantitative", "axis": null}}},
      {"data": {"values": [{}]}, "mark": {"type": "text", "text": "3d", "fontSize": 17, "fontStyle": "italic", "align": "left", "baseline": "middle", "dx": 1},
       "encoding": {"x": {"datum": 54.3, "type": "quantitative", "axis": null}, "y": {"datum": 72.5, "type": "quantitative", "axis": null}}}
     ]}
    ]
   },
   {
    "width": 274, "height": 262,
    "title": {"text": "(b)", "anchor": "start", "frame": "group", "dx": -45, "offset": -7, "fontSize": 27},
    "layer": [
     {"data": {"name": "b_comp"}, "transform": [{"filter": "datum.c === 'R1'"}], "mark": {"type": "area", "interpolate": "monotone", "fill": "#ED1C24", "stroke": "black", "strokeWidth": 0.8},
      "encoding": {
       "x": {"field": "e", "type": "quantitative", "scale": {"domain": [30, 22], "nice": false, "zero": false},
             "axis": {"values": [30,29,28,27,26,25,24,23,22], "tickCount": 50, "labelExpr": "datum.value % 2 === 0 ? format(datum.value, 'd') : ''", "title": "Binding Energy (eV)", "titleFontSize": 19.5, "labelFontSize": 17, "tickSize": 7, "domain": false, "labelPadding": 2, "titlePadding": 5, "labelFlush": false, "labelOverlap": false}},
       "y": {"field": "v", "type": "quantitative", "scale": {"domain": [0, 100], "nice": false, "zero": false},
             "axis": {"title": "Intensity (arb. units)", "titleFontSize": 19.5, "ticks": false, "labels": false, "domain": false, "titlePadding": 10}},
       "y2": {"datum": 0}}},
     {"data": {"name": "b_comp"}, "transform": [{"filter": "datum.c === 'R2'"}], "mark": {"type": "area", "interpolate": "monotone", "fill": "#ED1C24", "stroke": "black", "strokeWidth": 0.8},
      "encoding": {"x": {"field": "e", "type": "quantitative"}, "y": {"field": "v", "type": "quantitative"}, "y2": {"datum": 0}}},
     {"data": {"name": "b_comp"}, "transform": [{"filter": "datum.c === 'P1' || datum.c === 'P2'"}], "mark": {"type": "area", "interpolate": "monotone", "fill": "#F5B4B7", "stroke": "black", "strokeWidth": 0.8},
      "encoding": {"x": {"field": "e", "type": "quantitative"}, "y": {"field": "v", "type": "quantitative"}, "y2": {"datum": 0}, "detail": {"field": "c"}}},
     {"data": {"name": "b_pts"}, "mark": {"type": "line", "interpolate": "monotone", "color": "black", "strokeWidth": 3},
      "encoding": {"x": {"field": "e", "type": "quantitative"}, "y": {"field": "d", "type": "quantitative"}}},
     {"data": {"name": "b_pts"}, "mark": {"type": "point", "shape": "circle", "size": 30, "filled": false, "stroke": "black", "strokeWidth": 1.4, "opacity": 1},
      "encoding": {"x": {"field": "e", "type": "quantitative"}, "y": {"field": "d", "type": "quantitative"}}},
     {"data": {"name": "b_pts"}, "mark": {"type": "line", "interpolate": "monotone", "color": "#ED1C24", "strokeWidth": 1},
      "encoding": {"x": {"field": "e", "type": "quantitative"}, "y": {"field": "d", "type": "quantitative"}}},
     {"data": {"values": [{}]}, "mark": {"type": "rule", "color": "#555555", "strokeWidth": 2},
      "encoding": {"x": {"datum": 27.94, "type": "quantitative"}, "x2": {"datum": 26.91}, "y": {"datum": 82, "type": "quantitative"}}},
     {"data": {"values": [{}]}, "mark": {"type": "rule", "color": "#555555", "strokeWidth": 1.5},
      "encoding": {"x": {"datum": 27.94, "type": "quantitative"}, "y": {"datum": 79.5, "type": "quantitative"}, "y2": {"datum": 84.3}}},
     {"data": {"values": [{}]}, "mark": {"type": "rule", "color": "#555555", "strokeWidth": 1.5},
      "encoding": {"x": {"datum": 26.91, "type": "quantitative"}, "y": {"datum": 79.5, "type": "quantitative"}, "y2": {"datum": 84.3}}},
     {"data": {"values": [{}]}, "mark": {"type": "rule", "color": "black", "strokeWidth": 1.2, "strokeDash": [10, 6]},
      "encoding": {"x": {"datum": 26.91, "type": "quantitative"}, "y": {"datum": 79.5, "type": "quantitative"}, "y2": {"datum": 26}}},
     {"data": {"values": [{}]}, "mark": {"type": "text", "text": "Bi", "fontSize": 18, "align": "right", "baseline": "middle"},
      "encoding": {"x": {"datum": 29.36, "type": "quantitative"}, "y": {"datum": 88.5, "type": "quantitative"}}},
     {"data": {"values": [{}]}, "mark": {"type": "text", "text": "5d", "fontSize": 18, "fontStyle": "italic", "align": "left", "baseline": "middle", "dx": 1},
      "encoding": {"x": {"datum": 29.36, "type": "quantitative"}, "y": {"datum": 88.5, "type": "quantitative"}}},
     {"data": {"values": [{}]}, "mark": {"type": "text", "text": "0.5ML Fe", "fontSize": 18, "align": "right", "baseline": "middle"},
      "encoding": {"x": {"datum": 22.06, "type": "quantitative"}, "y": {"datum": 88.8, "type": "quantitative"}}},
     {"data": {"values": [{}]}, "mark": {"type": "text", "text": "1eV", "fontSize": 17, "align": "center", "baseline": "middle"},
      "encoding": {"x": {"datum": 27.43, "type": "quantitative"}, "y": {"datum": 87.5, "type": "quantitative"}}},
     {"data": {"values": [{}]}, "mark": {"type": "text", "text": "5d", "fontSize": 18, "fontStyle": "italic", "align": "right", "baseline": "middle"},
      "encoding": {"x": {"datum": 28.77, "type": "quantitative"}, "y": {"datum": 65.6, "type": "quantitative"}}},
     {"data": {"values": [{}]}, "mark": {"type": "text", "text": "3/2", "fontSize": 12, "fontStyle": "italic", "align": "left", "baseline": "middle", "dx": 1},
      "encoding": {"x": {"datum": 28.77, "type": "quantitative"}, "y": {"datum": 62.3, "type": "quantitative"}}},
     {"data": {"values": [{}]}, "mark": {"type": "text", "text": "5d", "fontSize": 18, "fontStyle": "italic", "align": "right", "baseline": "middle"},
      "encoding": {"x": {"datum": 25.59, "type": "quantitative"}, "y": {"datum": 65.6, "type": "quantitative"}}},
     {"data": {"values": [{}]}, "mark": {"type": "text", "text": "5/2", "fontSize": 12, "fontStyle": "italic", "align": "left", "baseline": "middle", "dx": 1},
      "encoding": {"x": {"datum": 25.59, "type": "quantitative"}, "y": {"datum": 62.3, "type": "quantitative"}}}
    ]
   }
  ]
 },
 {
  "title": {"text": "Low-Temperature Deposition", "fontSize": 26, "anchor": "middle", "offset": 6.5},
  "spacing": 27,
  "hconcat": [
   {
    "width": 237, "height": 257,
    "title": {"text": "(c)", "anchor": "start", "frame": "group", "dx": -43, "offset": -7, "fontSize": 27},
    "resolve": {"scale": {"x": "independent", "y": "independent"}},
    "layer": [
     {"layer": [
      {"data": {"name": "c_comp"}, "mark": {"type": "area", "interpolate": "monotone", "fill": "#3DC2F1", "stroke": "black", "strokeWidth": 1},
       "encoding": {
        "x": {"field": "e", "type": "quantitative", "scale": {"domain": [57.6, 50.45], "nice": false, "zero": false},
              "axis": {"values": [57.5,57,56.5,56,55.5,55,54.5,54,53.5,53,52.5,52,51.5,51,50.5], "tickCount": 50, "labelExpr": "datum.value % 2 === 0 ? format(datum.value, 'd') : ''", "title": "Binding Energy (eV)", "titleFontSize": 19.5, "labelFontSize": 17, "tickSize": 7, "domain": false, "labelPadding": 2, "titlePadding": 5, "labelFlush": false, "labelOverlap": false}},
        "y": {"field": "s", "type": "quantitative", "scale": {"domain": [0, 100], "nice": false, "zero": false},
              "axis": {"title": "Intensity (arb. units)", "titleFontSize": 19.5, "ticks": false, "labels": false, "domain": false, "titlePadding": 10}},
        "y2": {"datum": 0}}},
      {"data": {"name": "c_comp"}, "mark": {"type": "area", "interpolate": "monotone", "fill": "#B2DCB5", "stroke": "black", "strokeWidth": 1},
       "encoding": {"x": {"field": "e", "type": "quantitative"}, "y": {"field": "fe", "type": "quantitative"}, "y2": {"datum": 0}}},
      {"data": {"name": "c_pts"}, "mark": {"type": "line", "interpolate": "monotone", "color": "#35BDEE", "strokeWidth": 1},
       "encoding": {"x": {"field": "e", "type": "quantitative"}, "y": {"field": "d", "type": "quantitative"}}},
      {"data": {"name": "c_pts"}, "mark": {"type": "point", "shape": "circle", "size": 14, "filled": true, "fill": "white", "stroke": "black", "strokeWidth": 1, "opacity": 1},
       "encoding": {"x": {"field": "e", "type": "quantitative"}, "y": {"field": "d", "type": "quantitative"}}},
      {"data": {"values": [{}]}, "mark": {"type": "text", "text": "0.4ML Fe", "fontSize": 18, "align": "right", "baseline": "middle"},
       "encoding": {"x": {"datum": 50.51, "type": "quantitative"}, "y": {"datum": 90.9, "type": "quantitative"}}},
      {"data": {"values": [{}]}, "mark": {"type": "text", "text": "Se", "fontSize": 18, "align": "right", "baseline": "middle"},
       "encoding": {"x": {"datum": 52.32, "type": "quantitative"}, "y": {"datum": 29.6, "type": "quantitative"}}},
      {"data": {"values": [{}]}, "mark": {"type": "text", "text": "3d", "fontSize": 18, "fontStyle": "italic", "align": "left", "baseline": "middle", "dx": 1},
       "encoding": {"x": {"datum": 52.32, "type": "quantitative"}, "y": {"datum": 29.6, "type": "quantitative"}}},
      {"data": {"values": [{}]}, "mark": {"type": "text", "text": "Fe", "fontSize": 18, "align": "right", "baseline": "middle"},
       "encoding": {"x": {"datum": 54.2, "type": "quantitative"}, "y": {"datum": 7.5, "type": "quantitative"}}},
      {"data": {"values": [{}]}, "mark": {"type": "text", "text": "3p", "fontSize": 18, "fontStyle": "italic", "align": "left", "baseline": "middle", "dx": 1},
       "encoding": {"x": {"datum": 54.2, "type": "quantitative"}, "y": {"datum": 7.5, "type": "quantitative"}}}
     ]},
     {"layer": [
      {"data": {"name": "c_in"}, "mark": {"type": "area", "interpolate": "monotone", "fill": "#3DC2F1", "stroke": "black", "strokeWidth": 1},
       "encoding": {
        "x": {"field": "e", "type": "quantitative", "scale": {"domain": [54.95, 52.47], "range": [0, 82.7], "nice": false, "zero": false}, "axis": null},
        "y": {"field": "v", "type": "quantitative", "scale": {"domain": [0, 100], "range": [107.7, 0], "nice": false, "zero": false}, "axis": null},
        "y2": {"datum": 0}}},
      {"data": {"values": [{}]}, "mark": {"type": "rule", "color": "black", "strokeWidth": 1},
       "encoding": {"x": {"datum": 52.47, "type": "quantitative", "axis": null}, "y": {"datum": 0, "type": "quantitative", "axis": null}, "y2": {"datum": 100}}},
      {"data": {"values": [{}]}, "mark": {"type": "rule", "color": "black", "strokeWidth": 1},
       "encoding": {"x": {"datum": 54.95, "type": "quantitative", "axis": null}, "x2": {"datum": 52.47}, "y": {"datum": 0, "type": "quantitative", "axis": null}}},
      {"data": {"values": [{"t": 54.5}, {"t": 54}, {"t": 53.5}, {"t": 53}]}, "mark": {"type": "rule", "color": "black", "strokeWidth": 1},
       "encoding": {"x": {"field": "t", "type": "quantitative", "axis": null}, "y": {"datum": 0, "type": "quantitative", "axis": null}, "y2": {"datum": -5.6}}},
      {"data": {"values": [{"t": 54}]}, "mark": {"type": "text", "fontSize": 10.5, "align": "center", "baseline": "middle"},
       "encoding": {"x": {"field": "t", "type": "quantitative", "axis": null}, "y": {"datum": -20.7, "type": "quantitative", "axis": null}, "text": {"field": "t", "type": "quantitative", "format": "d"}}},
      {"data": {"values": [{}]}, "mark": {"type": "text", "text": "Clean", "fontSize": 17, "align": "left", "baseline": "middle"},
       "encoding": {"x": {"datum": 54.92, "type": "quantitative", "axis": null}, "y": {"datum": 85, "type": "quantitative", "axis": null}}},
      {"data": {"values": [{}]}, "mark": {"type": "text", "text": "Se", "fontSize": 17, "align": "right", "baseline": "middle"},
       "encoding": {"x": {"datum": 54.3, "type": "quantitative", "axis": null}, "y": {"datum": 68, "type": "quantitative", "axis": null}}},
      {"data": {"values": [{}]}, "mark": {"type": "text", "text": "3d", "fontSize": 17, "fontStyle": "italic", "align": "left", "baseline": "middle", "dx": 1},
       "encoding": {"x": {"datum": 54.3, "type": "quantitative", "axis": null}, "y": {"datum": 68, "type": "quantitative", "axis": null}}}
     ]}
    ]
   },
   {
    "width": 275, "height": 257,
    "title": {"text": "(d)", "anchor": "start", "frame": "group", "dx": -43, "offset": -7, "fontSize": 27},
    "resolve": {"scale": {"x": "independent", "y": "independent"}},
    "layer": [
     {"layer": [
      {"data": {"name": "d_comp"}, "transform": [{"filter": "datum.c === 'R1'"}], "mark": {"type": "area", "interpolate": "monotone", "fill": "#ED1C24", "stroke": "black", "strokeWidth": 0.8},
       "encoding": {
        "x": {"field": "e", "type": "quantitative", "scale": {"domain": [30, 22], "nice": false, "zero": false},
              "axis": {"values": [30,29,28,27,26,25,24,23,22], "tickCount": 50, "labelExpr": "datum.value % 2 === 0 ? format(datum.value, 'd') : ''", "title": "Binding Energy (eV)", "titleFontSize": 19.5, "labelFontSize": 17, "tickSize": 7, "domain": false, "labelPadding": 2, "titlePadding": 5, "labelFlush": false, "labelOverlap": false}},
        "y": {"field": "v", "type": "quantitative", "scale": {"domain": [0, 100], "nice": false, "zero": false},
              "axis": {"title": "Intensity (arb. units)", "titleFontSize": 19.5, "ticks": false, "labels": false, "domain": false, "titlePadding": 10}},
        "y2": {"datum": 0}}},
      {"data": {"name": "d_comp"}, "transform": [{"filter": "datum.c === 'R2'"}], "mark": {"type": "area", "interpolate": "monotone", "fill": "#ED1C24", "stroke": "black", "strokeWidth": 0.8},
       "encoding": {"x": {"field": "e", "type": "quantitative"}, "y": {"field": "v", "type": "quantitative"}, "y2": {"datum": 0}}},
      {"data": {"name": "d_comp"}, "transform": [{"filter": "datum.c === 'P1' || datum.c === 'P2'"}], "mark": {"type": "area", "interpolate": "monotone", "fill": "#F1828A", "stroke": "black", "strokeWidth": 0.8},
       "encoding": {"x": {"field": "e", "type": "quantitative"}, "y": {"field": "v", "type": "quantitative"}, "y2": {"datum": 0}, "detail": {"field": "c"}}},
      {"data": {"name": "d_pts"}, "mark": {"type": "line", "interpolate": "monotone", "color": "black", "strokeWidth": 2.5},
       "encoding": {"x": {"field": "e", "type": "quantitative"}, "y": {"field": "d", "type": "quantitative"}}},
      {"data": {"name": "d_pts"}, "mark": {"type": "point", "shape": "circle", "size": 30, "filled": true, "fill": "white", "stroke": "black", "strokeWidth": 1.3, "opacity": 1},
       "encoding": {"x": {"field": "e", "type": "quantitative"}, "y": {"field": "d", "type": "quantitative"}}},
      {"data": {"name": "d_pts"}, "mark": {"type": "line", "interpolate": "monotone", "color": "#ED1C24", "strokeWidth": 1},
       "encoding": {"x": {"field": "e", "type": "quantitative"}, "y": {"field": "d", "type": "quantitative"}}},
      {"data": {"values": [{}]}, "mark": {"type": "rule", "color": "#333333", "strokeWidth": 1.5},
       "encoding": {"x": {"datum": 27.88, "type": "quantitative"}, "x2": {"datum": 27.08}, "y": {"datum": 41.7, "type": "quantitative"}}},
      {"data": {"values": [{}]}, "mark": {"type": "rule", "color": "#333333", "strokeWidth": 1.3},
       "encoding": {"x": {"datum": 27.88, "type": "quantitative"}, "y": {"datum": 39.5, "type": "quantitative"}, "y2": {"datum": 53}}},
      {"data": {"values": [{}]}, "mark": {"type": "rule", "color": "#333333", "strokeWidth": 1.3},
       "encoding": {"x": {"datum": 27.08, "type": "quantitative"}, "y": {"datum": 39, "type": "quantitative"}, "y2": {"datum": 43.5}}},
      {"data": {"values": [{}]}, "mark": {"type": "rule", "color": "black", "strokeWidth": 1.2, "strokeDash": [10, 6]},
       "encoding": {"x": {"datum": 27.08, "type": "quantitative"}, "y": {"datum": 34, "type": "quantitative"}, "y2": {"datum": 15}}},
      {"data": {"values": [{}]}, "mark": {"type": "text", "text": "0.4ML Fe", "fontSize": 18, "align": "right", "baseline": "middle"},
       "encoding": {"x": {"datum": 22.14, "type": "quantitative"}, "y": {"datum": 89.4, "type": "quantitative"}}},
      {"data": {"values": [{}]}, "mark": {"type": "text", "text": "0.8eV", "fontSize": 18, "align": "left", "baseline": "middle"},
       "encoding": {"x": {"datum": 27.57, "type": "quantitative"}, "y": {"datum": 48.6, "type": "quantitative"}}},
      {"data": {"values": [{}]}, "mark": {"type": "text", "text": "5d", "fontSize": 18, "fontStyle": "italic", "align": "right", "baseline": "middle"},
       "encoding": {"x": {"datum": 28.69, "type": "quantitative"}, "y": {"datum": 60.9, "type": "quantitative"}}},
      {"data": {"values": [{}]}, "mark": {"type": "text", "text": "3/2", "fontSize": 12, "fontStyle": "italic", "align": "left", "baseline": "middle", "dx": 1},
       "encoding": {"x": {"datum": 28.69, "type": "quantitative"}, "y": {"datum": 57.6, "type": "quantitative"}}},
      {"data": {"values": [{}]}, "mark": {"type": "text", "text": "5d", "fontSize": 18, "fontStyle": "italic", "align": "right", "baseline": "middle"},
       "encoding": {"x": {"datum": 25.53, "type": "quantitative"}, "y": {"datum": 60.9, "type": "quantitative"}}},
      {"data": {"values": [{}]}, "mark": {"type": "text", "text": "5/2", "fontSize": 12, "fontStyle": "italic", "align": "left", "baseline": "middle", "dx": 1},
       "encoding": {"x": {"datum": 25.53, "type": "quantitative"}, "y": {"datum": 57.6, "type": "quantitative"}}}
     ]},
     {"layer": [
      {"data": {"name": "d_in"}, "mark": {"type": "area", "interpolate": "monotone", "fill": "#ED1C24", "stroke": "black", "strokeWidth": 1},
       "encoding": {
        "x": {"field": "e", "type": "quantitative", "scale": {"domain": [29, 23], "range": [0, 145.3], "nice": false, "zero": false}, "axis": null},
        "y": {"field": "v", "type": "quantitative", "scale": {"domain": [0, 100], "range": [58, 0], "nice": false, "zero": false}, "axis": null},
        "y2": {"datum": 5}}},
      {"data": {"values": [{}]}, "mark": {"type": "rule", "color": "black", "strokeWidth": 1},
       "encoding": {"x": {"datum": 23, "type": "quantitative", "axis": null}, "y": {"datum": 0, "type": "quantitative", "axis": null}, "y2": {"datum": 100}}},
      {"data": {"values": [{}]}, "mark": {"type": "rule", "color": "black", "strokeWidth": 1},
       "encoding": {"x": {"datum": 29, "type": "quantitative", "axis": null}, "x2": {"datum": 23}, "y": {"datum": 0, "type": "quantitative", "axis": null}}},
      {"data": {"values": [{"t": 29}, {"t": 28}, {"t": 27}, {"t": 26}, {"t": 25}, {"t": 24}, {"t": 23}]}, "mark": {"type": "rule", "color": "black", "strokeWidth": 1},
       "encoding": {"x": {"field": "t", "type": "quantitative", "axis": null}, "y": {"datum": 0, "type": "quantitative", "axis": null}, "y2": {"datum": -10.3}}},
      {"data": {"values": [{"t": 28}, {"t": 24}]}, "mark": {"type": "text", "fontSize": 10, "align": "center", "baseline": "middle"},
       "encoding": {"x": {"field": "t", "type": "quantitative", "axis": null}, "y": {"datum": -34, "type": "quantitative", "axis": null}, "text": {"field": "t", "type": "quantitative", "format": "d"}}},
      {"data": {"values": [{}]}, "mark": {"type": "text", "text": "Clean", "fontSize": 17, "align": "left", "baseline": "middle"},
       "encoding": {"x": {"datum": 27.33, "type": "quantitative", "axis": null}, "y": {"datum": 62.5, "type": "quantitative", "axis": null}}},
      {"data": {"values": [{}]}, "mark": {"type": "text", "text": "Bi", "fontSize": 17, "align": "right", "baseline": "middle"},
       "encoding": {"x": {"datum": 26.71, "type": "quantitative", "axis": null}, "y": {"datum": 32.5, "type": "quantitative", "axis": null}}},
      {"data": {"values": [{}]}, "mark": {"type": "text", "text": "5d", "fontSize": 17, "fontStyle": "italic", "align": "left", "baseline": "middle", "dx": 1},
       "encoding": {"x": {"datum": 26.71, "type": "quantitative", "axis": null}, "y": {"datum": 32.5, "type": "quantitative", "axis": null}}}
     ]}
    ]
   }
  ]
 }
]
}
